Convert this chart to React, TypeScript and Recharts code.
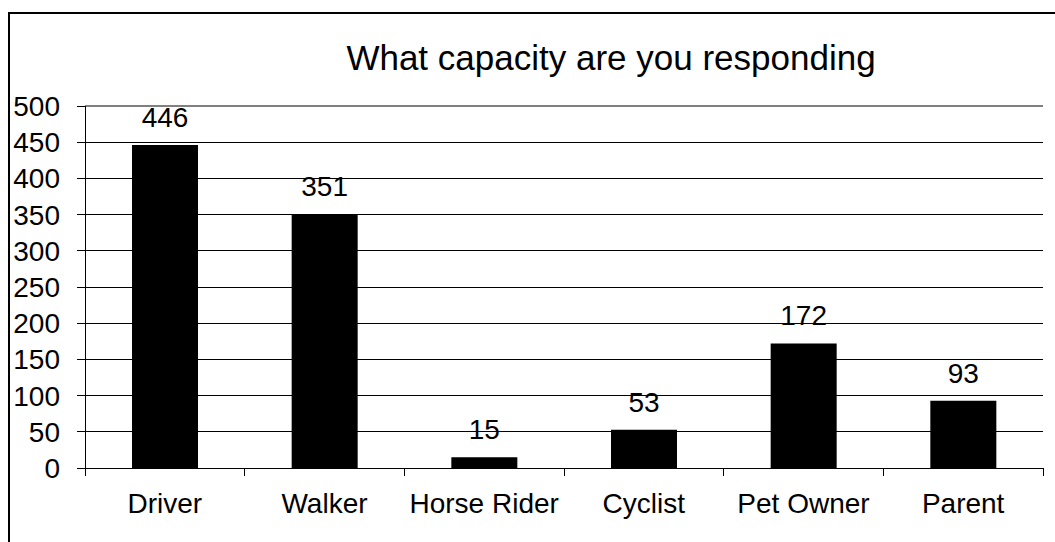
import React from 'react';
import { BarChart, Bar, XAxis, YAxis, CartesianGrid, LabelList, ReferenceLine } from 'recharts';

// Survey answers: how each respondent is taking part
const categories = ['Driver', 'Walker', 'Horse Rider', 'Cyclist', 'Pet Owner', 'Parent'];
const responses = [446, 351, 15, 53, 172, 93];
const yTicks = [0, 50, 100, 150, 200, 250, 300, 350, 400, 450, 500];
const chartTitle = 'What capacity are you responding';

const data = categories.map((name, i) => ({ name, value: responses[i] }));

const FONT = '"Liberation Sans", Arial, Helvetica, sans-serif';
const W = 1055;
const H = 542;

// Category label plus the boundary tick marks between categories
function CategoryTick(props: any) {
  const { x, y, payload, index } = props;
  const half = payload && payload.offset ? payload.offset : 0;
  const isLast = index === categories.length - 1;
  return (
    <g>
      <line x1={x - half} x2={x - half} y1={y} y2={y + 8} stroke="#000" strokeWidth={1} shapeRendering="crispEdges" />
      {isLast && (
        <line x1={x + half} x2={x + half} y1={y} y2={y + 8} stroke="#000" strokeWidth={1} shapeRendering="crispEdges" />
      )}
      <text x={x} y={y + 45} textAnchor="middle" fontSize={28} fill="#000" fontFamily={FONT}>
        {payload.value}
      </text>
    </g>
  );
}

export default function App() {
  return (
    <div
      style={{
        position: 'absolute',
        left: 0,
        top: 0,
        width: W,
        height: H,
        overflow: 'hidden',
        background: '#fff',
      }}
    >
      <div
        style={{
          position: 'absolute',
          left: 8,
          top: 12,
          width: 2000,
          height: 2000,
          border: '2px solid #000',
        }}
      />
      <BarChart
        width={W}
        height={H}
        data={data}
        margin={{ top: 106, right: 12, bottom: 14, left: 0 }}
        style={{ position: 'absolute', left: 0, top: 0 }}
      >
        <CartesianGrid horizontal vertical={false} stroke="#000" strokeWidth={1} shapeRendering="crispEdges" />
        <XAxis
          dataKey="name"
          height={60}
          interval={0}
          tickSize={0}
          tickMargin={0}
          tickLine={false}
          axisLine={{ stroke: '#000', strokeWidth: 1, shapeRendering: 'crispEdges' }}
          tick={<CategoryTick />}
        />
        <YAxis
          domain={[0, 500]}
          ticks={yTicks}
          interval={0}
          width={85}
          tickSize={8}
          tickMargin={17}
          axisLine={{ stroke: '#000', strokeWidth: 1, shapeRendering: 'crispEdges' }}
          tickLine={{ stroke: '#000', strokeWidth: 1, shapeRendering: 'crispEdges' }}
          tick={{ fontSize: 28, fill: '#000', fontFamily: FONT }}
        />
        <YAxis
          yAxisId="frame"
          orientation="right"
          width={0}
          tick={false}
          tickLine={false}
          axisLine={{ stroke: '#808080', strokeWidth: 2 }}
        />
        <ReferenceLine y={500} stroke="#808080" strokeWidth={2} />
        <Bar dataKey="value" fill="#000" barSize={66} isAnimationActive={false}>
          <LabelList
            dataKey="value"
            position="top"
            offset={18}
            fill="#000"
            fontSize={28}
            fontFamily={FONT}
          />
        </Bar>
      </BarChart>
      <svg
        width={W}
        height={100}
        style={{ position: 'absolute', left: 0, top: 0, pointerEvents: 'none' }}
      >
        <text x={611} y={70} textAnchor="middle" fontSize={35} fill="#000" fontFamily={FONT}>
          {chartTitle}
        </text>
      </svg>
    </div>
  );
}
